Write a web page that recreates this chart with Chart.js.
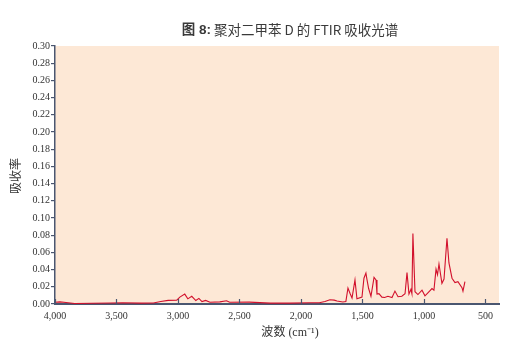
<!DOCTYPE html>
<html><head><meta charset="utf-8">
<script src="https://cdn.jsdelivr.net/npm/chart.js@4"></script>
<style>html,body{margin:0;padding:0;background:#fff;}#wrap{width:518px;height:351px;}</style>
</head><body><div id="wrap"><canvas id="c" width="518" height="351"></canvas></div>
<script>
const titleBold = "图 8:";
const titleRest = " 聚对二甲苯 D 的 FTIR 吸收光谱";
const xTitle = "波数 (cm⁻¹)";
const yTitle = "吸收率";
const xTickValues = [4000, 3500, 3000, 2500, 2000, 1500, 1000, 500];
const wavenumbers = [4000,3960,3910,3840,3700,3550,3450,3300,3200,3140,3080,3010,2985,2945,2920,2888,2855,2830,2805,2775,2740,2660,2605,2580,2420,2250,2090,1930,1850,1805,1765,1730,1707,1660,1635,1618,1600,1585,1561,1545,1504,1488,1472,1463,1450,1431,1406,1390,1382,1366,1342,1320,1293,1260,1236,1211,1180,1154,1138,1122,1106,1098,1090,1073,1049,1016,992,968,935,919,902,890,878,854,837,813,797,772,748,724,691,683,667];
const absorbance = [0.002,0.0025,0.0018,0.0006,0.0008,0.0012,0.0014,0.001,0.0012,0.003,0.0042,0.0045,0.008,0.0115,0.006,0.009,0.004,0.0065,0.0028,0.0042,0.002,0.0025,0.0038,0.002,0.0022,0.001,0.001,0.0015,0.0015,0.003,0.005,0.0045,0.0035,0.0023,0.003,0.0186,0.012,0.007,0.028,0.006,0.008,0.030,0.036,0.028,0.018,0.009,0.031,0.028,0.0115,0.012,0.008,0.0075,0.009,0.0075,0.015,0.0085,0.009,0.012,0.0365,0.0115,0.017,0.012,0.082,0.0143,0.011,0.016,0.0095,0.013,0.018,0.016,0.0406,0.034,0.0465,0.024,0.029,0.0765,0.0477,0.030,0.025,0.026,0.019,0.015,0.026];

const axisColor = '#4a5670';
const plotBg = '#fde8d6';

const decor = {
  id: 'decor',
  beforeDraw(chart) {
    const {ctx, chartArea: a} = chart;
    ctx.save();
    ctx.fillStyle = plotBg;
    ctx.fillRect(a.left, a.top, a.right - a.left, a.bottom - a.top);
    ctx.restore();
  },
  afterDraw(chart) {
    const {ctx, chartArea: a} = chart;
    const xs = chart.scales.x;
    ctx.save();
    ctx.strokeStyle = axisColor;
    ctx.lineWidth = 1.2;
    xTickValues.forEach(v => {
      const px = Math.round(xs.getPixelForValue(v)) + 0.5;
      ctx.beginPath();
      ctx.moveTo(px, a.bottom);
      ctx.lineTo(px, a.bottom - 5);
      ctx.stroke();
    });
    // titles
    ctx.fillStyle = '#3a3a3a';
    ctx.textBaseline = 'middle';
    const fb = 'bold 13.5px "Liberation Sans", "Noto Sans CJK SC", sans-serif';
    const fr = '13.5px "Noto Sans CJK SC", "Liberation Sans", sans-serif';
    ctx.font = fb;
    const wb = ctx.measureText(titleBold).width;
    ctx.font = fr;
    const wr = ctx.measureText(titleRest).width;
    const cx = 290;
    let sx = cx - (wb + wr) / 2;
    ctx.textAlign = 'left';
    ctx.font = fb;
    ctx.fillText(titleBold, sx, 30);
    ctx.font = fr;
    ctx.fillText(titleRest, sx + wb, 30);
    // x title
    ctx.fillStyle = '#333';
    ctx.textAlign = 'center';
    ctx.font = '12px "Liberation Serif", "Noto Sans CJK SC", serif';
    ctx.fillText(xTitle, 290, 333);
    // y title
    ctx.translate(15, 176);
    ctx.rotate(-Math.PI / 2);
    ctx.font = '12px "Noto Sans CJK SC", sans-serif';
    ctx.fillText(yTitle, 0, 0);
    ctx.restore();
  }
};

new Chart(document.getElementById('c'), {
  type: 'line',
  data: {
    datasets: [{
      data: wavenumbers.map((w, i) => ({x: w, y: absorbance[i]})),
      borderColor: '#d2102c',
      borderWidth: 1.1,
      pointRadius: 0,
      tension: 0,
      fill: false
    }]
  },
  options: {
    responsive: false,
    animation: false,
    devicePixelRatio: 1,
    layout: {padding: {top: 46, right: 19, bottom: 0, left: 0}},
    plugins: {legend: {display: false}, tooltip: {enabled: false}, title: {display: false}},
    scales: {
      x: {
        type: 'linear',
        reverse: true,
        min: 390,
        max: 4000,
        afterBuildTicks(scale) { scale.ticks = xTickValues.map(v => ({value: v})); },
        afterFit(scale) { scale.height = 47; },
        grid: {display: true, drawOnChartArea: false, drawTicks: false, color: 'rgba(0,0,0,0)'},
        border: {display: true, color: axisColor, width: 2},
        ticks: {
          padding: 6,
          color: '#333',
          font: {family: '"Liberation Serif", serif', size: 10},
          maxRotation: 0,
          autoSkip: false,
          callback: v => Number(v).toLocaleString('en-US')
        }
      },
      y: {
        min: 0,
        max: 0.3,
        afterFit(scale) { scale.width = 55; },
        grid: {display: true, drawOnChartArea: false, drawTicks: true, tickLength: 4, color: axisColor, lineWidth: 1.2},
        border: {display: true, color: axisColor, width: 1.5},
        ticks: {
          stepSize: 0.02,
          padding: 1,
          color: '#333',
          font: {family: '"Liberation Serif", serif', size: 10},
          autoSkip: false,
          callback: v => Number(v).toFixed(2)
        }
      }
    }
  },
  plugins: [decor]
});
</script>
</body></html>
